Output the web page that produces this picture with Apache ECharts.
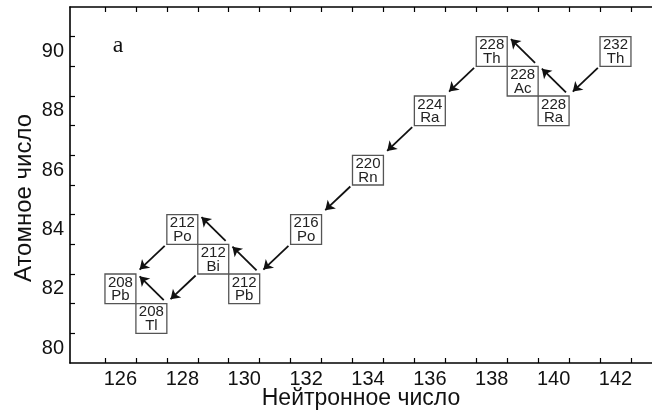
<!DOCTYPE html>
<html>
<head>
<meta charset="utf-8">
<script src="https://cdn.jsdelivr.net/npm/echarts@6/dist/echarts.min.js"></script>
<style>
  html, body { margin: 0; padding: 0; background: #fff; }
  #chart { width: 652px; height: 415px; }
</style>
</head>
<body>
<div id="chart"></div>
<script>
// Nuclides of the thorium decay chain: neutron number N, atomic number Z
const nuclideN    = [142, 140, 139, 138, 136, 134, 132, 130, 129, 128, 127, 126];
const nuclideZ    = [ 90,  88,  89,  90,  88,  86,  84,  82,  83,  84,  81,  82];
const massNumber  = [232, 228, 228, 228, 224, 220, 216, 212, 212, 212, 208, 208];
const elementSym  = ['Th','Ra','Ac','Th','Ra','Rn','Po','Pb','Bi','Po','Tl','Pb'];

// Decays: index of parent -> index of daughter, type
const decayFrom = [0, 1, 2, 3, 4, 5, 6, 7, 8, 8, 9, 10];
const decayTo   = [1, 2, 3, 4, 5, 6, 7, 8, 9, 10, 11, 11];
const decayType = ['a','b','b','a','a','a','a','b','b','a','a','b'];

// Axis ticks / labels
const xTickValues  = [125.5,126.5,127.5,128.5,129.5,130.5,131.5,132.5,133.5,134.5,135.5,136.5,137.5,138.5,139.5,140.5,141.5,142.5];
const xLabelValues = [126, 128, 130, 132, 134, 136, 138, 140, 142];
const yTickValues  = [80.5, 81.5, 82.5, 83.5, 84.5, 85.5, 86.5, 87.5, 88.5, 89.5, 90.5];
const yLabelValues = [80, 82, 84, 86, 88, 90];

const FONT = '"Liberation Sans", Arial, Helvetica, sans-serif';

// arrow end offsets relative to parent / daughter cell centres (style)
const OFF = {
  a: { tail: [-0.57, -0.55], head: [0.62, 0.65] },
  b: { tail: [0.40, 0.62],  head: [0.62, 0.42] }
};

const arrowData = decayFrom.map((f, i) => {
  const t = decayTo[i], o = OFF[decayType[i]];
  return { coords: [
    [nuclideN[f] + o.tail[0], nuclideZ[f] + o.tail[1]],
    [nuclideN[t] + o.head[0], nuclideZ[t] + o.head[1]]
  ]};
});

const boxData = nuclideN.map((n, i) => [n, nuclideZ[i], massNumber[i], elementSym[i]]);

const chart = echarts.init(document.getElementById('chart'), null, { renderer: 'canvas' });

const axisLineStyle = { color: '#000', width: 1.6 };

chart.setOption({
  animation: false,
  backgroundColor: '#fff',
  grid: { left: 70, right: 0, top: 7, bottom: 52, containLabel: false, outerBoundsMode: 'none' },
  xAxis: [
    {
      type: 'value', position: 'bottom', min: 124.37, max: 143.18,
      name: 'Нейтронное число', nameLocation: 'middle', nameGap: 24, nameMoveOverlap: false,
      nameTextStyle: { fontFamily: FONT, fontSize: 23, color: '#111' },
      axisLine: { show: true, onZero: false, lineStyle: axisLineStyle },
      axisTick: { show: true, inside: true, length: 5, customValues: xTickValues, lineStyle: { color: '#000', width: 1.2 } },
      axisLabel: { show: true, customValues: xLabelValues, margin: 6, fontFamily: FONT, fontSize: 20, color: '#111' },
      splitLine: { show: false }
    },
    {
      type: 'value', position: 'top', min: 124.37, max: 143.18,
      axisLine: { show: true, onZero: false, lineStyle: axisLineStyle },
      axisTick: { show: true, inside: true, length: 5, customValues: xTickValues, lineStyle: { color: '#000', width: 1.2 } },
      axisLabel: { show: false },
      splitLine: { show: false }
    }
  ],
  yAxis: {
    type: 'value', min: 79.5, max: 91.5,
    name: 'Атомное число', nameLocation: 'middle', nameGap: 34, nameRotate: 90, nameMoveOverlap: false,
    nameTextStyle: { fontFamily: FONT, fontSize: 24, color: '#111', padding: [0, 26, 0, 0] },
    axisLine: { show: true, onZero: false, lineStyle: axisLineStyle },
    axisTick: { show: true, inside: true, length: 5, customValues: yTickValues, lineStyle: { color: '#000', width: 1.2 } },
    axisLabel: { show: true, customValues: yLabelValues, margin: 6, fontFamily: FONT, fontSize: 20, color: '#111' },
    splitLine: { show: false }
  },
  graphic: [
    { type: 'text', x: 118, y: 45.5, style: { text: 'a', align: 'center', verticalAlign: 'middle', font: '24px "Liberation Serif", "Times New Roman", serif', fill: '#111' } }
  ],
  series: [
    {
      type: 'custom',
      coordinateSystem: 'cartesian2d',
      xAxisIndex: 0, yAxisIndex: 0,
      data: boxData,
      renderItem: function (params, api) {
        const n = api.value(0), z = api.value(1);
        const p1 = api.coord([n - 0.5, z + 0.5]);
        const p2 = api.coord([n + 0.5, z - 0.5]);
        const c = api.coord([n, z]);
        const i = params.dataIndex;
        return {
          type: 'group',
          children: [
            { type: 'rect', shape: { x: p1[0], y: p1[1], width: p2[0] - p1[0], height: p2[1] - p1[1] },
              style: { fill: '#fff', stroke: '#555', lineWidth: 1.3 } },
            { type: 'text', x: c[0], y: c[1] + 0.5,
              style: { text: massNumber[i] + '\n' + elementSym[i], align: 'center', verticalAlign: 'middle',
                       font: '15px ' + FONT, lineHeight: 13.5, fill: '#222' } }
          ]
        };
      },
      z: 2
    },
    {
      type: 'lines',
      coordinateSystem: 'cartesian2d',
      xAxisIndex: 0, yAxisIndex: 0,
      data: arrowData,
      symbol: ['none', 'arrow'],
      symbolSize: [0, 9],
      lineStyle: { color: '#111', width: 1.8, opacity: 1, curveness: 0 },
      z: 3
    }
  ]
});
</script>
</body>
</html>
